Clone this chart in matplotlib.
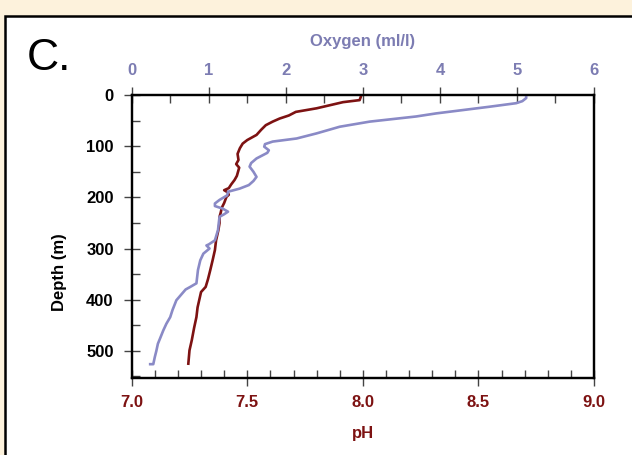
import matplotlib
matplotlib.use("Agg")
import matplotlib.pyplot as plt
from matplotlib.patches import Rectangle
from matplotlib.ticker import MultipleLocator

# ---- data ----
ph_depth = [0, 5, 10, 14, 20, 26, 33, 40, 46, 52, 59, 68, 78, 88, 95, 104, 115, 127, 135,
            142, 150, 158, 166, 175, 182, 186, 190, 195, 199, 205, 211, 220, 230, 238, 250,
            264, 284, 303, 323, 342, 360, 375, 385, 395, 415, 434, 455, 479, 499, 525]
ph_values = [7.994, 7.99, 7.986, 7.914, 7.857, 7.80, 7.71, 7.68, 7.64, 7.61, 7.58, 7.56,
             7.54, 7.50, 7.48, 7.468, 7.458, 7.462, 7.452, 7.465, 7.46, 7.455, 7.445, 7.43,
             7.42, 7.40, 7.415, 7.42, 7.41, 7.405, 7.40, 7.39, 7.385, 7.38, 7.38, 7.375,
             7.365, 7.36, 7.35, 7.34, 7.33, 7.32, 7.30, 7.295, 7.285, 7.28, 7.27, 7.26,
             7.25, 7.245]

oxy_depth = [0, 6, 12, 16, 23, 36, 42, 52, 62, 75, 85, 91, 96, 101, 108, 113, 124,
             133, 140, 150, 160, 168, 176, 183, 189, 196, 205, 212, 217, 222, 228, 233, 238,
             250, 264, 284, 292, 294, 300, 310, 323, 342, 368, 375, 380, 401, 420, 434, 447,
             460, 475, 486, 500, 512, 526, 526]
oxy_values = [5.12, 5.12, 5.07, 4.99, 4.64, 3.95, 3.69, 3.09, 2.70, 2.40, 2.14, 1.83, 1.73,
              1.72, 1.78, 1.76, 1.62, 1.55, 1.53, 1.58, 1.62, 1.58, 1.52, 1.40,
              1.25, 1.24, 1.14, 1.08, 1.08, 1.18, 1.25, 1.20, 1.14, 1.13, 1.12, 1.08, 1.00,
              0.97, 1.01, 0.93, 0.89, 0.86, 0.84, 0.76, 0.70, 0.58, 0.53, 0.50, 0.45, 0.41,
              0.37, 0.34, 0.32, 0.30, 0.28, 0.24]

ph_ticks = [7.0, 7.5, 8.0, 8.5, 9.0]
ph_ticklabels = ["7.0", "7.5", "8.0", "8.5", "9.0"]
oxy_ticks = [0, 1, 2, 3, 4, 5, 6]
depth_ticks = [0, 100, 200, 300, 400, 500]

RED = "#7d1212"
LAV = "#8a8ac6"
LAV_TXT = "#7c7cb2"
BG = "#fdf2dc"
TICK = "#444444"

plt.rcParams['font.family'] = ['Liberation Sans', 'DejaVu Sans']

fig = plt.figure(figsize=(6.32, 4.55), dpi=100)
fig.patch.set_facecolor(BG)

# white panel with black border
panel = Rectangle((5 / 632, -0.05), 1.2, 0.05 + 1 - 16 / 455, transform=fig.transFigure,
                  facecolor="white", edgecolor="black", linewidth=1.8, zorder=-10)
fig.add_artist(panel)

ax = fig.add_axes([131.7 / 632, 1 - 378 / 455, (594 - 131.7) / 632, (378 - 95) / 455])
ax.set_facecolor("none")
ax.plot(ph_values, ph_depth, color=RED, lw=1.9, zorder=3)
ax.set_xlim(7.0, 9.0)
ax.set_ylim(553, 0)

ax2 = ax.twiny()
ax2.plot(oxy_values, oxy_depth, color=LAV, lw=1.9, zorder=2)
ax2.set_xlim(0, 6)
ax2.set_ylim(553, 0)

for a in (ax, ax2):
    for s in a.spines.values():
        s.set_linewidth(1.6)
        s.set_color("black")

# bottom (pH)
ax.set_xticks(ph_ticks)
ax.set_xticklabels(ph_ticklabels)
ax.xaxis.set_minor_locator(MultipleLocator(0.1))
ax.tick_params(axis="x", which="major", direction="inout", length=12, width=1, pad=6,
               labelsize=12, labelcolor=RED, color=TICK)
ax.tick_params(axis="x", which="minor", direction="in", length=6, width=1, color=TICK)
for t in ax.get_xticklabels():
    t.set_fontweight("bold")
ax.set_xlabel("pH", color=RED, fontsize=12, fontweight="bold", labelpad=12)

# left (depth)
ax.set_yticks(depth_ticks)
ax.yaxis.set_minor_locator(MultipleLocator(50))
ax.tick_params(axis="y", which="major", direction="inout", length=12, width=1, pad=7,
               labelsize=12, color=TICK)
ax.tick_params(axis="y", which="minor", direction="in", length=6, width=1, color=TICK)
for t in ax.get_yticklabels():
    t.set_fontweight("bold")
ax.set_ylabel("Depth (m)", fontsize=12, fontweight="bold")
ax.yaxis.set_label_coords(-0.141, 0.375)

# top (oxygen)
ax2.set_xticks(oxy_ticks)
ax2.xaxis.set_minor_locator(MultipleLocator(0.5))
ax2.tick_params(axis="x", which="major", direction="inout", length=12, width=1, pad=6,
                labelsize=12, labelcolor=LAV_TXT, color=TICK)
ax2.tick_params(axis="x", which="minor", direction="in", length=6, width=1, color=TICK)
for t in ax2.get_xticklabels():
    t.set_fontweight("bold")
ax2.set_xlabel("Oxygen (ml/l)", color=LAV_TXT, fontsize=12, fontweight="bold", labelpad=12.5)

fig.text(27 / 632, 1 - 58 / 455, "C.", fontsize=32, va="center", ha="left", color="black")

fig.savefig("out.png", dpi=100, facecolor=fig.get_facecolor())
